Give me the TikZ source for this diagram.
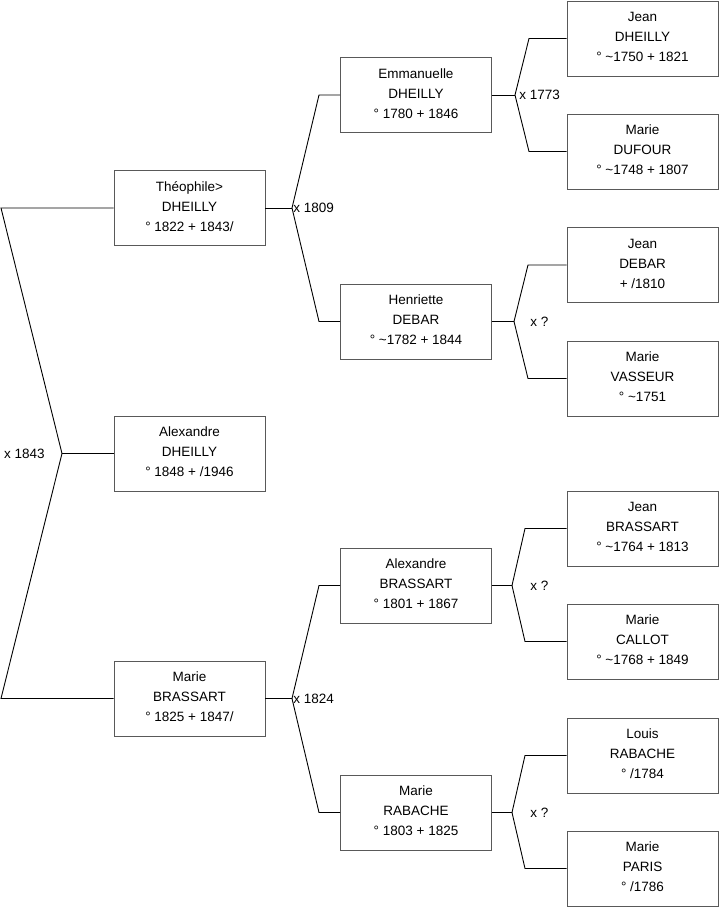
\documentclass[tikz,border=0pt]{standalone}
\usepackage{fontspec}
\setmainfont{Liberation Sans}
\usetikzlibrary{positioning}

\begin{document}
\begin{tikzpicture}[x=1pt,y=-1pt,line width=0.9pt,
                    person/.style={rectangle,draw=black!65,minimum width=151pt,minimum height=75pt,
                      inner sep=0pt,align=center,text depth=3pt,font=\fontsize{13.5}{20}\selectfont},
                    union/.style={font=\fontsize{13.5}{16}\selectfont,inner sep=1pt}]
  \useasboundingbox (0,0) rectangle (719,908);

  % generation 1
  \node[person] (theo) at (189.5,208) {Théophile>\\DHEILLY\\° 1822 + 1843/};
  \node[person] (alex) at (189.5,453.5) {Alexandre\\DHEILLY\\° 1848 + /1946};
  \node[person] (marb) at (189.5,698.5) {Marie\\BRASSART\\° 1825 + 1847/};

  % generation 2
  \node[person] (emma) at (416,95) {Emmanuelle\\DHEILLY\\° 1780 + 1846};
  \node[person] (henr) at (416,321.5) {Henriette\\DEBAR\\° \textasciitilde1782 + 1844};
  \node[person] (alxb) at (416,585.5) {Alexandre\\BRASSART\\° 1801 + 1867};
  \node[person] (marr) at (416,812.5) {Marie\\RABACHE\\° 1803 + 1825};

  % generation 3
  \node[person] (jeand) at (642.5,38.5) {Jean\\DHEILLY\\° \textasciitilde1750 + 1821};
  \node[person] (marid) at (642.5,151.5) {Marie\\DUFOUR\\° \textasciitilde1748 + 1807};
  \node[person] (jeanb) at (642.5,265) {Jean\\DEBAR\\+ /1810};
  \node[person] (mariv) at (642.5,378.5) {Marie\\VASSEUR\\° \textasciitilde1751};
  \node[person] (jeanr) at (642.5,528.5) {Jean\\BRASSART\\° \textasciitilde1764 + 1813};
  \node[person] (maric) at (642.5,641.5) {Marie\\CALLOT\\° \textasciitilde1768 + 1849};
  \node[person] (louis) at (642.5,755.5) {Louis\\RABACHE\\° /1784};
  \node[person] (marip) at (642.5,868.5) {Marie\\PARIS\\° /1786};

  % unions
  \coordinate (u1) at (62,453.5);  \coordinate (u1a) at (1,208);   \coordinate (u1b) at (1,698.5);
  \coordinate (u2) at (292,208);   \coordinate (u2a) at (319,95);  \coordinate (u2b) at (319,321.5);
  \coordinate (u3) at (292,698.5); \coordinate (u3a) at (319,585.5); \coordinate (u3b) at (319,812.5);
  \coordinate (u4) at (515,95);    \coordinate (u4a) at (529,38.5);  \coordinate (u4b) at (529,151.5);
  \coordinate (u5) at (514,321.5); \coordinate (u5a) at (528,265);   \coordinate (u5b) at (528,378.5);
  \coordinate (u6) at (512,585.5); \coordinate (u6a) at (525,528.5); \coordinate (u6b) at (525,641.5);
  \coordinate (u7) at (512,812.5); \coordinate (u7a) at (525,755.5); \coordinate (u7b) at (525,868.5);

  \draw (theo.west) -- (u1a) -- (u1) -- (u1b) -- (marb.west);
  \draw (u1) -- (alex.west);
  \node[union,left=16pt of u1] {x 1843};

  \draw (theo.east) -- (u2);
  \draw (emma.west) -- (u2a) -- (u2) -- (u2b) -- (henr.west);
  \node[union,right=0pt of u2] {x 1809};

  \draw (marb.east) -- (u3);
  \draw (alxb.west) -- (u3a) -- (u3) -- (u3b) -- (marr.west);
  \node[union,right=0pt of u3] {x 1824};

  \draw (emma.east) -- (u4);
  \draw (jeand.west) -- (u4a) -- (u4) -- (u4b) -- (marid.west);
  \node[union,right=3pt of u4] {x 1773};

  \draw (henr.east) -- (u5);
  \draw (jeanb.west) -- (u5a) -- (u5) -- (u5b) -- (mariv.west);
  \node[union,right=15pt of u5] {x ?};

  \draw (alxb.east) -- (u6);
  \draw (jeanr.west) -- (u6a) -- (u6) -- (u6b) -- (maric.west);
  \node[union,right=17pt of u6] {x ?};

  \draw (marr.east) -- (u7);
  \draw (louis.west) -- (u7a) -- (u7) -- (u7b) -- (marip.west);
  \node[union,right=17pt of u7] {x ?};
\end{tikzpicture}
\end{document}
